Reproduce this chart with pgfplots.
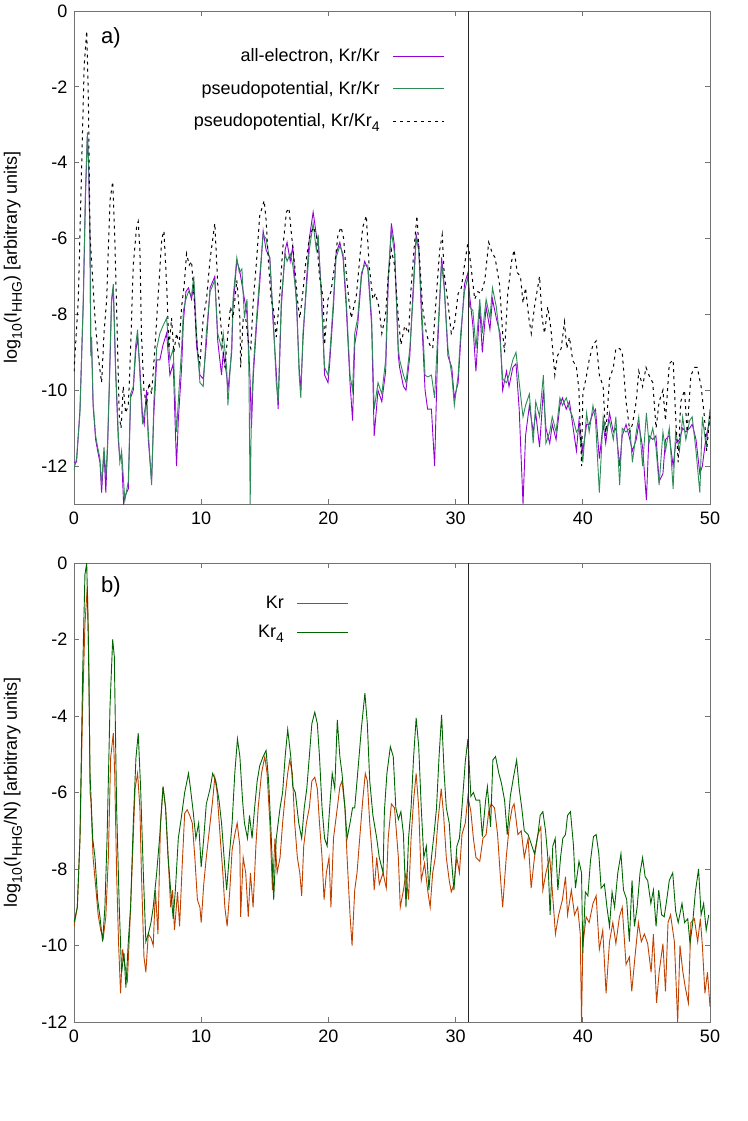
\documentclass[border=0pt]{standalone}
\usepackage{fontspec}
\setmainfont{Liberation Sans}
\usepackage{pgfplots}
\usepackage{pgfplotstable}
\pgfplotsset{compat=1.18}
\newcommand\fs{\fontsize{18}{21}\selectfont}
\newcommand\sub[1]{\raisebox{-0.28em}{\fontsize{14}{16}\selectfont #1}}
\definecolor{cpur}{HTML}{9400D3}
\definecolor{cgrn}{HTML}{2E8B57}
\definecolor{corg}{HTML}{C04000}
\definecolor{cdg}{HTML}{006400}

\pgfplotstableread{
x y
0 -12.1
0.2 -11.8
0.47 -10.6
0.73 -7.6
0.9 -4.8
1.05 -3.2
1.15 -4.0
1.26 -6.0
1.32 -9.1
1.38 -8.6
1.5 -10.3
1.7 -11.2
1.86 -11.5
2.04 -11.8
2.17 -12.5
2.36 -11.5
2.5 -12.3
2.64 -11.4
2.77 -9.9
2.95 -7.6
3.09 -7.2
3.27 -9.4
3.48 -11.1
3.6 -11.9
3.74 -11.6
4.0 -12.9
4.27 -12.4
4.45 -10.1
4.66 -9.9
4.85 -8.8
5.0 -8.4
5.18 -9.6
5.39 -10.9
5.52 -10.6
5.7 -10.3
5.84 -11.1
6.1 -12.5
6.28 -10.3
6.5 -8.9
6.75 -8.5
7.0 -8.3
7.28 -8.1
7.54 -9.2
7.8 -8.9
8.06 -11.1
8.2 -10.3
8.46 -8.9
8.6 -7.9
8.8 -7.6
9.0 -7.4
9.24 -7.5
9.42 -7.0
9.63 -8.5
9.9 -9.8
10.16 -9.9
10.4 -8.5
10.7 -7.4
11.07 -7.1
11.3 -8.5
11.6 -8.9
11.73 -8.5
12.0 -9.4
12.1 -10.4
12.4 -8.8
12.5 -7.6
12.8 -6.5
13.0 -6.9
13.2 -6.8
13.4 -8.1
13.6 -7.6
13.75 -9.5
13.85 -13.0
13.95 -10.5
14.1 -9.4
14.35 -8.1
14.6 -7.0
14.87 -5.9
15.1 -6.0
15.4 -6.6
15.65 -8.0
15.9 -9.8
16.05 -10.3
16.3 -7.6
16.6 -6.4
16.75 -6.6
17.0 -6.4
17.2 -6.7
17.5 -7.6
17.7 -9.6
17.83 -10.2
18.0 -8.5
18.3 -7.2
18.5 -6.3
18.8 -5.6
19.05 -6.3
19.2 -5.9
19.45 -7.6
19.7 -9.4
19.97 -9.6
20.1 -9.1
20.4 -7.6
20.6 -6.5
20.9 -6.2
21.15 -6.4
21.4 -7.6
21.7 -9.6
21.9 -10.0
22.07 -8.5
22.3 -8.1
22.6 -6.9
22.85 -6.7
23.1 -6.7
23.4 -8.1
23.6 -10.5
23.9 -9.8
24.2 -10.1
24.5 -9.2
24.7 -7.0
24.95 -5.8
25.2 -6.4
25.5 -8.9
25.6 -9.2
25.9 -9.6
26.1 -9.8
26.4 -8.9
26.65 -7.6
26.9 -6.0
27.1 -6.3
27.3 -7.6
27.6 -9.6
27.8 -9.65
28.1 -9.6
28.35 -10.2
28.6 -8.5
28.9 -6.65
29.1 -7.3
29.4 -8.9
29.7 -9.6
29.9 -10.4
30.2 -9.6
30.4 -8.5
30.7 -7.4
30.97 -7.0
31.1 -7.8
31.36 -7.9
31.6 -8.9
31.9 -7.6
32.1 -8.5
32.4 -7.6
32.7 -8.1
32.9 -7.3
33.2 -7.8
33.5 -8.7
33.7 -9.7
34.0 -9.8
34.2 -9.6
34.5 -9.2
34.75 -9.0
35.0 -9.8
35.3 -10.7
35.5 -10.4
35.8 -10.1
36.1 -11.4
36.3 -10.3
36.6 -10.7
36.9 -9.6
37.1 -11.4
37.4 -11.1
37.6 -10.7
37.9 -11.1
38.2 -10.2
38.4 -10.4
38.7 -10.2
38.95 -10.5
39.2 -10.7
39.5 -11.1
39.7 -11.0
40.0 -11.9
40.3 -10.6
40.5 -11.1
40.8 -10.4
41.0 -10.8
41.3 -12.7
41.6 -10.7
41.8 -11.1
42.1 -10.8
42.4 -11.3
42.6 -10.7
42.9 -12.5
43.1 -11.0
43.4 -11.1
43.7 -11.0
43.9 -11.9
44.2 -11.1
44.4 -10.7
44.7 -12.0
45.0 -10.6
45.2 -11.4
45.5 -11.0
45.75 -11.5
46.0 -12.5
46.3 -11.1
46.5 -11.6
46.8 -11.0
47.1 -12.6
47.3 -11.1
47.6 -11.6
47.85 -10.7
48.1 -11.3
48.4 -10.8
48.6 -10.7
48.9 -11.6
49.2 -12.7
49.4 -10.7
49.7 -11.5
50.0 -10.5
}\tblG

\pgfplotstableread{
x y
0 -11.9
0.2 -11.9
0.47 -10.5
0.73 -7.7
0.9 -4.9
1.05 -3.3
1.15 -4.1
1.26 -6.1
1.32 -9.0
1.38 -8.7
1.5 -10.4
1.7 -11.3
1.86 -11.6
2.04 -11.9
2.17 -12.7
2.36 -11.6
2.5 -12.7
2.64 -11.5
2.77 -10.0
2.95 -7.7
3.09 -7.3
3.27 -9.5
3.48 -11.3
3.6 -11.8
3.74 -11.7
3.9 -13.0
4.0 -12.8
4.27 -12.6
4.45 -10.2
4.66 -10.0
4.85 -9.0
5.0 -8.6
5.18 -9.4
5.39 -10.7
5.52 -10.9
5.7 -10.0
5.84 -11.3
6.1 -12.4
6.28 -10.6
6.5 -9.2
6.75 -9.2
7.0 -8.8
7.28 -8.5
7.54 -9.6
7.8 -9.3
8.06 -12.0
8.2 -10.8
8.46 -9.4
8.6 -8.2
8.8 -7.4
9.0 -7.3
9.24 -7.6
9.42 -7.2
9.63 -8.8
9.9 -9.6
10.16 -9.7
10.4 -8.8
10.7 -7.3
11.07 -7.0
11.3 -8.7
11.6 -9.6
11.73 -9.0
12.0 -9.6
12.1 -10.0
12.4 -9.0
12.5 -7.8
12.8 -6.6
13.0 -6.8
13.2 -7.2
13.4 -7.6
13.6 -8.0
13.75 -9.0
13.85 -9.8
13.95 -11.0
14.1 -9.6
14.35 -8.3
14.6 -7.2
14.87 -5.8
15.1 -6.3
15.4 -6.5
15.65 -8.2
15.9 -9.5
16.05 -10.5
16.3 -7.8
16.6 -6.3
16.75 -6.1
17.0 -6.6
17.2 -6.2
17.5 -7.8
17.7 -9.4
17.83 -10.0
18.0 -8.7
18.3 -7.0
18.5 -6.0
18.8 -5.3
19.05 -5.9
19.2 -6.1
19.45 -7.4
19.7 -9.6
19.97 -9.8
20.1 -9.3
20.4 -7.8
20.6 -6.4
20.9 -6.1
21.15 -6.5
21.4 -7.8
21.7 -9.8
21.9 -10.8
22.07 -8.8
22.3 -8.3
22.6 -7.0
22.85 -6.6
23.1 -6.8
23.4 -8.3
23.6 -11.2
23.9 -10.0
24.2 -10.3
24.5 -9.5
24.7 -7.2
24.95 -5.6
25.2 -6.2
25.5 -9.1
25.6 -9.4
25.9 -9.9
26.1 -10.0
26.4 -9.1
26.65 -7.4
26.9 -5.9
27.1 -6.2
27.3 -7.9
27.6 -10.0
27.8 -10.5
28.1 -10.5
28.35 -12.0
28.6 -8.8
28.9 -6.5
29.1 -7.2
29.4 -9.1
29.7 -9.4
29.9 -10.2
30.2 -9.8
30.4 -8.7
30.7 -7.2
30.97 -6.9
31.1 -7.5
31.36 -8.3
31.6 -9.5
31.9 -7.8
32.1 -9.0
32.4 -7.8
32.7 -8.4
32.9 -7.6
33.2 -8.1
33.5 -8.5
33.7 -10.0
34.0 -9.5
34.2 -9.9
34.5 -9.4
34.75 -9.3
35.0 -10.5
35.3 -13.0
35.5 -11.2
35.8 -10.4
36.1 -11.1
36.3 -10.6
36.6 -11.5
36.9 -10.0
37.1 -11.0
37.4 -11.4
37.6 -10.9
37.9 -11.3
38.2 -10.4
38.4 -10.2
38.7 -10.5
38.95 -10.3
39.2 -10.9
39.5 -11.6
39.7 -10.8
40.0 -11.6
40.3 -10.9
40.5 -10.9
40.8 -10.6
41.0 -10.5
41.3 -11.8
41.6 -10.9
41.8 -11.4
42.1 -10.6
42.4 -11.1
42.6 -11.0
42.9 -12.0
43.1 -11.2
43.4 -10.9
43.7 -11.3
43.9 -11.6
44.2 -11.3
44.4 -10.9
44.7 -11.5
45.0 -12.9
45.2 -11.2
45.5 -11.3
45.75 -11.2
46.0 -12.4
46.3 -12.2
46.5 -11.3
46.8 -11.2
47.1 -12.0
47.3 -11.4
47.6 -11.3
47.85 -11.0
48.1 -11.1
48.4 -11.0
48.6 -10.9
48.9 -11.3
49.2 -12.2
49.4 -12.0
49.7 -11.2
50.0 -10.8
}\tblP

\pgfplotstableread{
x y
0 -9.5
0.34 -7.6
0.6 -4.1
0.8 -1.45
1.0 -0.53
1.13 -2.3
1.26 -5.9
1.4 -6.7
1.65 -8.1
1.9 -9.1
2.17 -9.8
2.36 -8.5
2.57 -7.6
2.83 -5.0
3.04 -4.5
3.2 -5.9
3.4 -8.5
3.56 -10.7
3.7 -11.0
3.87 -9.9
4.06 -10.6
4.27 -10.4
4.4 -9.4
4.66 -6.7
4.92 -5.7
5.05 -5.55
5.18 -6.3
5.3 -8.5
5.5 -10.0
5.7 -10.4
5.9 -9.8
6.1 -10.1
6.36 -8.9
6.6 -7.6
6.9 -6.0
7.07 -5.8
7.28 -7.2
7.46 -8.9
7.67 -8.1
7.85 -9.0
8.06 -8.5
8.27 -8.8
8.46 -7.8
8.67 -7.2
8.85 -6.4
9.06 -6.7
9.24 -6.6
9.45 -7.6
9.69 -8.9
9.9 -9.3
10.16 -8.1
10.42 -7.6
10.68 -6.6
11.07 -5.6
11.3 -7.2
11.6 -8.5
11.86 -9.4
12.1 -8.5
12.3 -7.8
12.5 -8.1
12.8 -7.1
13.04 -8.1
13.1 -9.4
13.3 -8.1
13.5 -8.1
13.7 -8.7
13.9 -8.9
14.1 -7.6
14.35 -6.6
14.6 -5.4
14.95 -5.0
15.1 -5.5
15.3 -6.7
15.5 -7.6
15.7 -7.9
15.9 -8.6
16.2 -7.4
16.4 -6.3
16.7 -5.3
16.9 -5.2
17.1 -5.9
17.35 -6.7
17.56 -7.6
17.75 -8.1
18.0 -7.4
18.2 -6.7
18.5 -6.0
18.8 -5.7
19.05 -5.9
19.3 -7.0
19.6 -7.6
19.7 -8.8
19.97 -7.6
20.2 -7.4
20.5 -6.7
20.75 -5.9
21.0 -5.7
21.2 -6.0
21.4 -6.9
21.6 -7.6
21.8 -8.1
22.0 -7.8
22.2 -7.5
22.5 -6.4
22.7 -5.7
22.98 -5.4
23.2 -6.7
23.5 -7.6
23.7 -7.45
23.97 -7.8
24.2 -8.5
24.5 -8.0
24.7 -7.0
24.95 -6.3
25.2 -6.7
25.5 -8.1
25.7 -8.8
26.0 -8.3
26.3 -8.5
26.5 -7.3
26.8 -6.0
26.96 -5.4
27.2 -6.7
27.4 -7.8
27.7 -8.5
27.96 -8.8
28.2 -8.9
28.5 -7.45
28.75 -6.3
28.95 -5.9
29.1 -6.9
29.4 -7.7
29.66 -8.5
29.9 -8.3
30.2 -7.45
30.45 -7.3
30.7 -6.7
30.97 -6.1
31.2 -6.7
31.5 -7.6
31.75 -7.4
32.0 -7.45
32.3 -7.1
32.6 -6.1
32.9 -6.4
33.1 -6.5
33.45 -7.2
33.7 -8.5
33.85 -9.0
34.1 -7.45
34.4 -6.6
34.6 -6.3
34.85 -6.9
35.1 -7.0
35.3 -7.7
35.5 -7.3
35.76 -8.1
35.95 -8.5
36.2 -7.8
36.6 -7.0
36.8 -8.1
36.99 -8.5
37.25 -7.8
37.5 -8.4
37.8 -9.6
38.0 -9.1
38.3 -8.9
38.56 -8.2
38.74 -8.9
38.95 -8.6
39.2 -9.2
39.5 -9.4
39.7 -10.0
39.9 -12.0
40.0 -10.1
40.3 -9.6
40.5 -9.2
40.8 -8.8
41.05 -8.7
41.3 -9.6
41.6 -9.9
41.8 -11.2
42.1 -9.7
42.4 -9.4
42.6 -8.9
42.9 -8.9
43.1 -9.0
43.4 -10.3
43.7 -11.1
43.9 -10.9
44.2 -10.3
44.4 -9.5
44.7 -9.9
44.97 -9.4
45.2 -9.6
45.5 -9.8
45.76 -11.0
46.0 -10.3
46.3 -10.0
46.5 -10.8
46.8 -9.3
47.1 -9.2
47.3 -10.7
47.5 -11.9
47.7 -10.3
48.0 -10.0
48.2 -11.1
48.5 -9.6
48.8 -9.4
49.0 -9.4
49.3 -9.9
49.56 -10.7
49.74 -11.6
50.0 -10.6
}\tblD

\pgfplotstableread{
x y
0 -9.5
0.26 -9.0
0.47 -7.2
0.68 -3.75
0.86 -1.6
1.05 -0.6
1.18 -2.9
1.26 -6.0
1.33 -6.2
1.5 -7.7
1.73 -8.55
1.9 -9.2
2.1 -9.6
2.3 -9.8
2.5 -9.25
2.7 -7.7
2.88 -5.1
3.09 -4.45
3.2 -5.5
3.35 -8.1
3.5 -9.9
3.66 -11.25
3.82 -10.1
4.0 -10.5
4.2 -10.9
4.4 -9.4
4.6 -7.7
4.8 -5.9
5.0 -5.5
5.18 -6.4
5.3 -8.1
5.5 -10.3
5.65 -10.7
5.84 -9.7
6.05 -9.8
6.23 -10.0
6.4 -8.55
6.6 -9.7
6.8 -6.8
7.0 -5.85
7.2 -6.4
7.4 -7.7
7.6 -9.0
7.75 -8.55
7.9 -9.6
8.14 -8.6
8.3 -9.5
8.5 -7.95
8.7 -6.55
8.9 -6.45
9.1 -6.6
9.3 -6.8
9.5 -7.7
9.7 -8.8
9.9 -9.0
10.0 -9.4
10.2 -8.4
10.4 -7.7
10.6 -7.1
10.9 -6.2
11.07 -5.6
11.25 -6.0
11.5 -7.2
11.7 -8.1
11.86 -9.0
12.04 -9.5
12.25 -8.55
12.43 -7.5
12.64 -7.1
12.83 -6.8
13.04 -7.4
13.1 -9.25
13.3 -7.7
13.5 -8.1
13.7 -9.25
13.87 -8.1
14.08 -9.0
14.3 -7.4
14.48 -6.4
14.74 -5.5
15.0 -5.06
15.18 -5.5
15.4 -6.8
15.6 -8.55
15.8 -7.2
15.97 -8.1
16.2 -7.7
16.4 -6.8
16.57 -6.2
16.8 -5.5
16.96 -5.15
17.17 -5.5
17.35 -6.8
17.56 -7.7
17.75 -8.1
17.9 -8.7
18.06 -7.4
18.27 -6.8
18.5 -6.4
18.7 -5.7
18.93 -5.6
19.13 -5.9
19.3 -6.8
19.5 -7.7
19.66 -8.8
19.84 -8.1
20.05 -7.7
20.2 -9.0
20.4 -7.2
20.7 -6.4
20.9 -5.85
21.07 -5.7
21.3 -6.4
21.47 -7.7
21.7 -9.2
21.86 -10.0
22.07 -8.55
22.25 -8.1
22.46 -7.2
22.7 -6.2
22.9 -5.5
23.06 -5.7
23.25 -6.8
23.46 -7.7
23.6 -8.55
23.8 -7.7
24.0 -8.4
24.3 -8.1
24.55 -8.5
24.7 -7.2
24.95 -6.3
25.2 -6.4
25.5 -7.7
25.65 -9.0
25.9 -8.55
26.1 -8.1
26.3 -8.8
26.5 -7.2
26.7 -6.2
26.9 -5.5
27.1 -6.4
27.3 -8.3
27.56 -7.85
27.8 -8.55
28.0 -9.0
28.2 -8.1
28.4 -7.7
28.6 -6.8
28.87 -5.9
29.06 -6.6
29.27 -7.7
29.5 -8.3
29.66 -8.6
29.87 -8.4
30.1 -7.7
30.3 -8.1
30.5 -7.1
30.76 -6.8
30.97 -6.1
31.2 -6.5
31.4 -7.2
31.6 -7.7
31.9 -7.8
32.15 -7.2
32.4 -7.1
32.6 -6.5
32.8 -6.3
33.06 -6.4
33.3 -7.1
33.5 -8.1
33.7 -9.0
33.98 -7.7
34.24 -6.8
34.45 -6.4
34.6 -6.3
34.9 -7.1
35.16 -7.0
35.4 -7.7
35.7 -7.2
35.94 -8.5
36.2 -7.7
36.47 -7.1
36.7 -6.9
36.86 -8.55
37.1 -8.1
37.4 -7.7
37.6 -8.55
37.85 -9.7
38.1 -9.2
38.4 -8.8
38.64 -8.2
38.8 -9.2
39.1 -8.55
39.35 -9.2
39.6 -9.0
39.8 -9.7
39.9 -12.0
40.0 -10.0
40.26 -9.25
40.5 -9.4
40.8 -8.9
41.05 -8.7
41.3 -10.1
41.57 -9.6
41.83 -11.25
42.1 -9.9
42.36 -9.4
42.6 -9.95
42.88 -9.25
43.1 -9.0
43.4 -10.5
43.66 -10.3
43.85 -11.2
44.1 -10.3
44.37 -9.4
44.6 -9.9
44.84 -9.7
45.1 -9.95
45.37 -10.7
45.55 -9.7
45.8 -11.5
46.0 -10.7
46.3 -9.95
46.5 -11.2
46.7 -9.4
46.9 -9.2
47.2 -9.9
47.46 -12.0
47.64 -10.0
47.85 -10.65
48.06 -11.1
48.3 -11.5
48.5 -9.4
48.77 -9.3
49.03 -9.9
49.24 -9.3
49.4 -10.0
49.6 -11.25
49.8 -10.7
50.0 -11.6
}\tblO

\pgfplotstableread{
x y
0 -9.4
0.26 -9.0
0.47 -7.2
0.68 -2.9
0.86 -0.3
1.0 0.0
1.13 -2.0
1.26 -5.5
1.47 -7.2
1.65 -7.7
1.86 -8.8
2.04 -9.25
2.25 -9.9
2.43 -9.0
2.6 -7.2
2.83 -3.75
3.04 -2.0
3.17 -2.45
3.35 -6.4
3.56 -9.0
3.74 -10.7
3.93 -10.2
4.08 -11.1
4.27 -9.9
4.45 -9.0
4.66 -6.8
4.87 -5.1
5.05 -4.45
5.24 -5.9
5.45 -8.1
5.65 -9.9
5.84 -9.7
6.05 -9.4
6.23 -9.0
6.5 -8.1
6.75 -7.1
7.0 -5.85
7.2 -6.4
7.4 -7.7
7.6 -8.55
7.8 -9.3
7.98 -8.5
8.2 -7.2
8.46 -6.6
8.7 -6.0
9.0 -5.5
9.16 -5.9
9.37 -6.5
9.58 -7.2
9.8 -6.8
10.0 -7.95
10.2 -7.2
10.4 -6.3
10.7 -5.9
10.9 -5.5
11.15 -5.7
11.4 -6.2
11.6 -6.8
11.8 -7.7
12.0 -8.55
12.2 -7.7
12.43 -6.8
12.64 -5.5
12.85 -4.6
13.04 -5.06
13.25 -6.2
13.4 -6.8
13.64 -7.2
13.8 -6.6
14.0 -7.2
14.2 -6.4
14.4 -5.7
14.6 -5.3
14.87 -5.06
15.1 -4.9
15.3 -5.7
15.5 -7.1
15.7 -8.8
15.9 -7.2
16.2 -6.4
16.4 -6.0
16.6 -5.06
16.8 -4.35
17.04 -5.06
17.2 -5.85
17.4 -6.0
17.67 -6.8
17.9 -7.2
18.1 -6.4
18.3 -5.9
18.5 -5.06
18.7 -4.2
18.93 -3.9
19.13 -4.2
19.3 -5.06
19.5 -6.4
19.7 -7.2
19.9 -7.4
20.1 -6.4
20.3 -5.5
20.5 -5.9
20.7 -4.1
20.9 -5.06
21.07 -5.5
21.3 -6.4
21.47 -7.2
21.7 -6.8
21.9 -6.4
22.07 -6.4
22.3 -5.5
22.6 -4.3
22.87 -3.4
23.06 -4.2
23.25 -5.7
23.5 -6.6
23.8 -7.2
24.0 -7.7
24.3 -8.1
24.4 -6.5
24.6 -5.5
24.87 -4.8
25.1 -5.06
25.3 -6.4
25.5 -6.7
25.7 -6.5
25.9 -7.1
26.1 -9.0
26.3 -7.2
26.5 -6.4
26.7 -5.06
26.9 -4.05
27.1 -4.8
27.3 -6.4
27.5 -7.7
27.7 -7.4
27.9 -8.55
28.1 -7.7
28.3 -7.1
28.5 -6.4
28.7 -5.06
28.9 -3.97
29.1 -5.5
29.27 -6.4
29.5 -6.8
29.66 -7.7
29.87 -8.55
30.1 -7.4
30.3 -7.2
30.5 -6.4
30.76 -5.2
30.97 -4.6
31.2 -6.1
31.4 -6.0
31.6 -6.2
31.9 -6.2
32.1 -7.15
32.36 -6.2
32.5 -5.85
32.75 -6.9
32.93 -5.15
33.14 -5.06
33.4 -5.5
33.6 -5.75
33.85 -6.2
34.06 -7.1
34.3 -6.1
34.55 -5.6
34.8 -5.15
35.0 -5.9
35.2 -6.4
35.4 -7.0
35.7 -7.1
35.9 -7.3
36.2 -7.6
36.47 -7.1
36.65 -6.6
36.86 -6.5
37.07 -7.0
37.25 -7.7
37.43 -9.2
37.64 -7.4
37.83 -7.2
38.04 -8.55
38.25 -7.7
38.43 -7.2
38.64 -7.1
38.8 -6.6
39.03 -6.5
39.27 -7.4
39.42 -8.5
39.7 -7.8
39.9 -8.1
40.0 -10.2
40.2 -8.6
40.4 -8.7
40.6 -7.8
40.84 -7.15
41.05 -7.1
41.26 -7.6
41.44 -8.5
41.7 -8.4
41.9 -9.0
42.1 -9.5
42.3 -8.6
42.5 -9.0
42.75 -8.1
43.0 -7.6
43.2 -8.55
43.45 -8.8
43.66 -9.9
43.87 -8.3
44.06 -9.5
44.27 -9.0
44.5 -8.1
44.7 -7.7
44.9 -8.2
45.1 -8.3
45.35 -8.9
45.55 -8.55
45.76 -9.5
45.97 -8.55
46.2 -9.2
46.4 -9.25
46.6 -8.8
46.8 -8.3
47.07 -8.1
47.3 -9.1
47.5 -9.4
47.8 -8.9
48.0 -9.4
48.25 -9.3
48.43 -9.95
48.64 -9.4
48.85 -8.6
49.1 -8.0
49.3 -9.2
49.5 -8.9
49.7 -9.6
49.9 -9.2
}\tblK

\pgfplotsset{
  hhg/.style={
    scale only axis, width=636pt,
    xmin=0, xmax=50,
    xtick={0,10,20,30,40,50},
    xticklabels={0,10,20,30,40,50},
    tick align=inside, major tick length=5pt,
    axis line style={color=black!55, line width=0.9pt},
    every tick/.style={color=black!55, line width=0.9pt},
    tick label style={font=\fs, text=black},
    yticklabel style={xshift=-3pt},
    xticklabel style={yshift=-4pt},
    label style={font=\fs},
    legend cell align=right,
    legend plot pos=right,
    legend image code/.code={\path (0pt,0pt) -- (0pt,0pt);\draw[##1] (11pt,0pt) -- (62pt,0pt);},
    legend style={draw=none, fill=none, font=\fs},
  }
}

\begin{document}
\begin{tikzpicture}
\path[use as bounding box] (0pt,0pt) rectangle (747pt,-1121pt);
\begin{axis}[hhg,
  at={(74pt,-504pt)}, anchor=south west,
  height=493pt,
  ymin=-13, ymax=0,
  ytick={-12,-10,-8,-6,-4,-2,0},
  yticklabels={-12,-10,-8,-6,-4,-2,0},
  ylabel={log\sub{10}(I\sub{HHG}) [arbitrary units]},
  ylabel style={at={(axis description cs:-0.096,0.5)}, anchor=center},
  legend style={at={(axis description cs:0.588,0.932)}, anchor=north east, row sep=14pt},
]
\addplot[cpur, line width=0.9pt] table[x=x,y=y] {\tblP};
\addlegendentry{all-electron, Kr/Kr}
\addplot[cgrn, line width=0.9pt] table[x=x,y=y] {\tblG};
\addlegendentry{pseudopotential, Kr/Kr}
\addplot[black, line width=1pt, dash pattern=on 3pt off 4pt] table[x=x,y=y] {\tblD};
\addlegendentry{pseudopotential, Kr/Kr\sub{4}}
\addplot[black!85, line width=0.9pt, forget plot] coordinates {(31,-13) (31,0)};
\node[font=\fontsize{22}{24}\selectfont, anchor=center] at (axis description cs:0.058,0.945) {a)};
\end{axis}
\begin{axis}[hhg,
  at={(74pt,-1022pt)}, anchor=south west,
  height=459pt,
  ymin=-12, ymax=0,
  ytick={-12,-10,-8,-6,-4,-2,0},
  yticklabels={-12,-10,-8,-6,-4,-2,0},
  ylabel={log\sub{10}(I\sub{HHG}/N) [arbitrary units]},
  ylabel style={at={(axis description cs:-0.096,0.5)}, anchor=center},
  legend style={at={(axis description cs:0.437,0.937)}, anchor=north east, row sep=11pt},
]
\addplot[corg, line width=0.9pt] table[x=x,y=y] {\tblO};
\addlegendentry{Kr}
\addplot[cdg, line width=0.9pt] table[x=x,y=y] {\tblK};
\addlegendentry{Kr\sub{4}}
\addplot[black!85, line width=0.9pt, forget plot] coordinates {(31,-12) (31,0)};
\node[font=\fontsize{22}{24}\selectfont, anchor=center] at (axis description cs:0.058,0.948) {b)};
\end{axis}
\end{tikzpicture}
\end{document}
